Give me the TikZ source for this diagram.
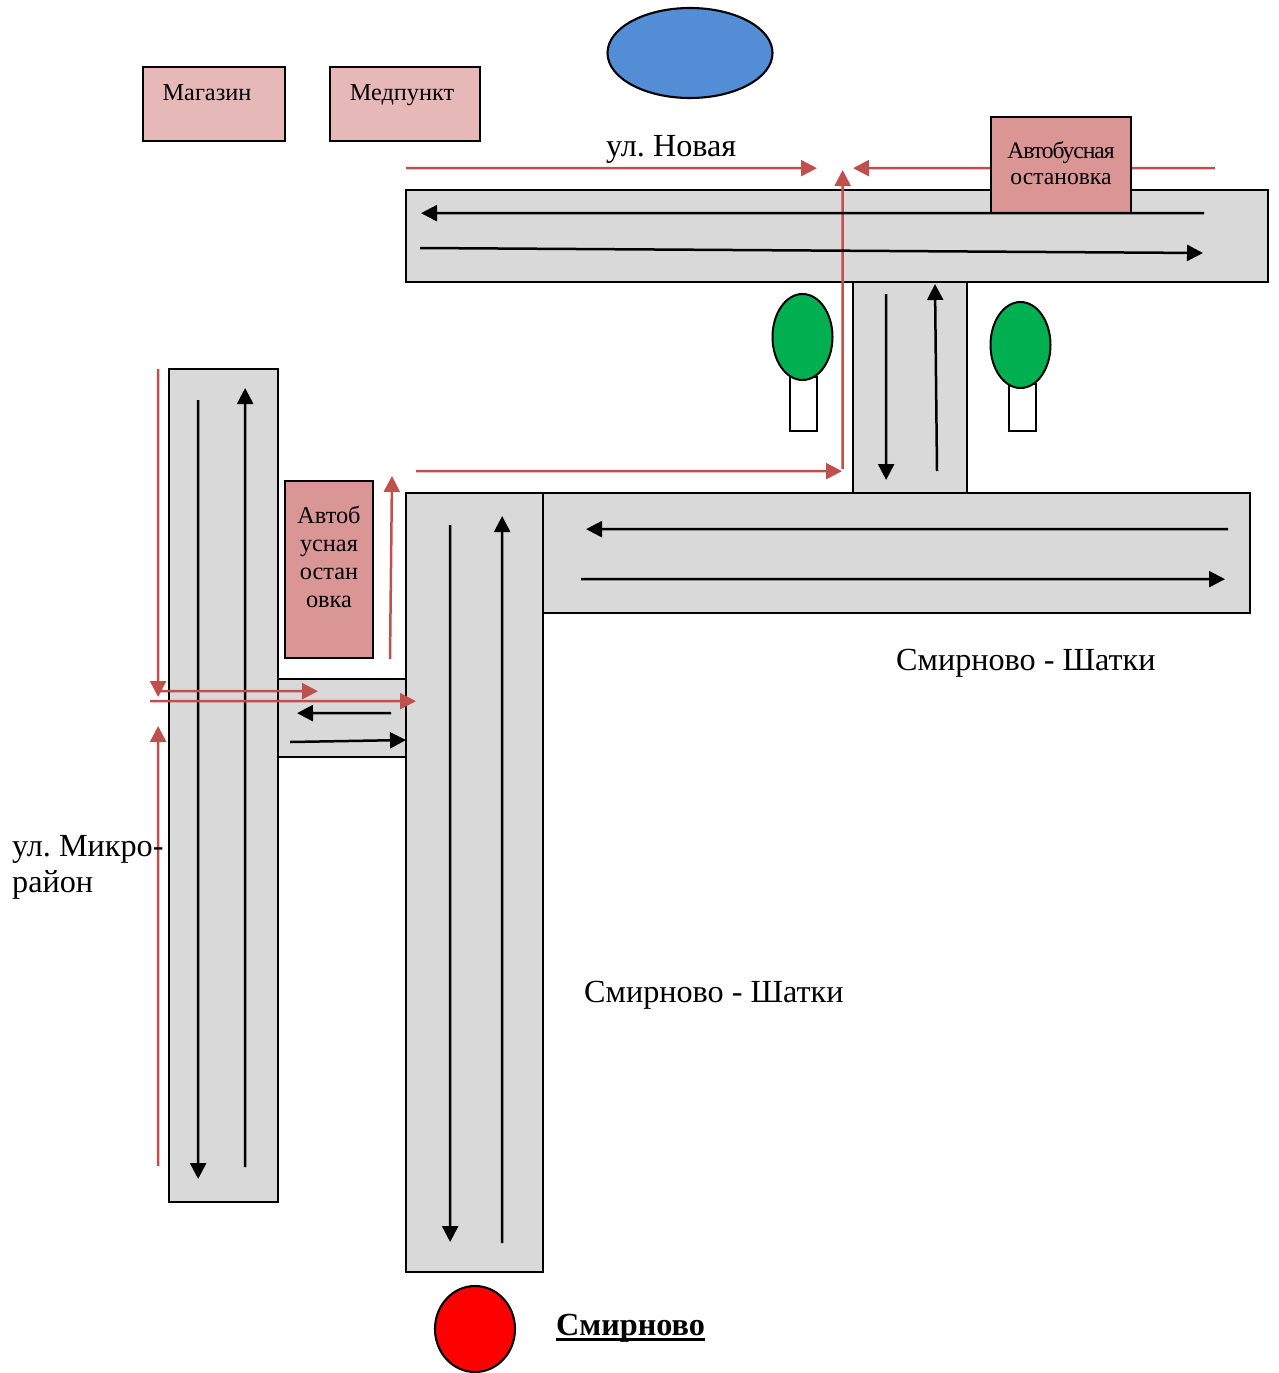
\documentclass[tikz,border=0pt]{standalone}
\usepackage{fontspec}
\setmainfont{Liberation Serif}
\usetikzlibrary{arrows.meta,shapes.geometric}
\frenchspacing
\definecolor{road}{RGB}{217,217,217}
\definecolor{redline}{RGB}{192,80,77}
\definecolor{stopfill}{RGB}{217,150,148}
\definecolor{shopfill}{RGB}{230,184,183}
\definecolor{treegreen}{RGB}{0,176,80}
\definecolor{lake}{RGB}{83,141,213}
\tikzset{
  x=1pt,y=-1pt,
  roadbox/.style={draw=black,fill=road,line width=2.1pt},
  stopbox/.style={draw=black,fill=stopfill,line width=2.1pt},
  shopbox/.style={draw=black,fill=shopfill,line width=2.1pt},
  trunk/.style={draw=black,fill=white,line width=1.7pt},
  crown/.style={draw=black,fill=treegreen,line width=2pt},
  lane/.style={draw=black,line width=2.5pt,-{Triangle[length=16pt,width=16pt]}},
  redarrow/.style={draw=redline,line width=2.5pt,-{Triangle[length=16pt,width=16pt]}},
  redplain/.style={draw=redline,line width=2.5pt},
  small/.style={font=\fontsize{24.3}{28}\selectfont,align=center,text=black},
  big/.style={font=\fontsize{32.2}{36}\selectfont,align=left,text=black},
}
\begin{document}
\begin{tikzpicture}
\useasboundingbox (0,0) rectangle (1278,1373);
% roads
\draw[roadbox] (169,369) rectangle (278,1202);
\draw[roadbox] (278,679) rectangle (406,757);
\draw[roadbox] (543,493) rectangle (1250,613);
\draw[roadbox] (406,493) rectangle (543,1272);
\draw[roadbox] (853,282) rectangle (967,493);
\draw[roadbox] (406,190) rectangle (1268,282);
% lake, buildings
\node[draw=black,fill=lake,line width=2.1pt,ellipse,minimum width=165pt,minimum height=90pt,inner sep=0pt] (lakeshape) at (690,53) {};
\draw[shopbox] (143,67) rectangle (285,141);
\node[small,anchor=base] (shop) at (207,100) {Магазин};
\draw[shopbox] (330,67) rectangle (480,141);
\node[small,anchor=base] (med) at (402,100) {Медпункт};
% red lines, upper
\draw[redarrow] (406,168) -- (817,168.15);
\draw[redplain] (1131,168) -- (1215,168.15);
\draw[redarrow] (991,168) -- (853,168.15);
\draw[redarrow] (842.5,469) -- (842.65,170);
\draw[redarrow] (416,471) -- (842,471.15);
\draw[redarrow] (390,659) -- (392,476);
% stops
\draw[stopbox] (991,117) rectangle (1131,213);
\node[small,font=\fontsize{23.6}{26}\selectfont,align=center] (stopa) at (1061,163) {\addfontfeature{LetterSpace=-4.4}Автобусная\\остановка};
\draw[stopbox] (285,481) rectangle (373,658);
\node[small,anchor=north,font=\fontsize{24.3}{27.7}\selectfont] (stopb) at (329,503) {Автоб\\усная\\остан\\овка};
% lanes
\draw[lane] (1204,213) -- (421,213.15);
\draw[lane] (420,248) -- (1203,253);
\draw[lane] (886,294) -- (886.15,480);
\draw[lane] (937,471) -- (935,284);
\draw[lane] (1228,529) -- (586,529.15);
\draw[lane] (581,579) -- (1225,579.15);
\draw[lane] (450,525) -- (450.15,1242);
\draw[lane] (502,1243) -- (502.15,516);
\draw[lane] (198,400) -- (198.15,1179);
\draw[lane] (245,1167) -- (245.15,388);
\draw[lane] (391,713) -- (297,713.15);
\draw[lane] (290,742) -- (406,740);
% trees
\draw[trunk] (790,377) rectangle (817,431);
\node[crown,ellipse,minimum width=60pt,minimum height=86pt,inner sep=0pt] (treea) at (802.5,337) {};
\draw[trunk] (1009,384) rectangle (1036,431);
\node[crown,ellipse,minimum width=60pt,minimum height=86pt,inner sep=0pt] (treeb) at (1020.5,345) {};
% red lines, left
\draw[redarrow] (158,369) -- (158.15,697);
\draw[redarrow] (158,1166) -- (158.15,726);
\draw[redarrow] (160,691) -- (318,691.15);
\draw[redarrow] (150,701) -- (416,701.15);
% labels
\node[big,anchor=base west,inner sep=0pt] (nova) at (606,156) {ул. Новая};
\node[big,anchor=base west,inner sep=0pt] (sh1) at (896,670) {Смирново - Шатки};
\node[big,anchor=base west,inner sep=0pt] (sh2) at (584,1002) {Смирново - Шатки};
\node[big,anchor=base west,inner sep=0pt] (mik) at (12,856) {ул. Микро-};
\node[big,anchor=base west,inner sep=0pt] (mik2) at (12,892) {район};
% Smirnovo
\node[draw=black,fill=red,line width=2.1pt,ellipse,minimum width=80pt,minimum height=86pt,inner sep=0pt] (town) at (475,1329) {};
\node[big,anchor=base west,inner sep=0pt] (townlabel) at (556,1335) {\bfseries Смирново};
\draw[draw=black,line width=3pt] (townlabel.base west) ++(0,4) -- ++(149,0);
\end{tikzpicture}
\end{document}
